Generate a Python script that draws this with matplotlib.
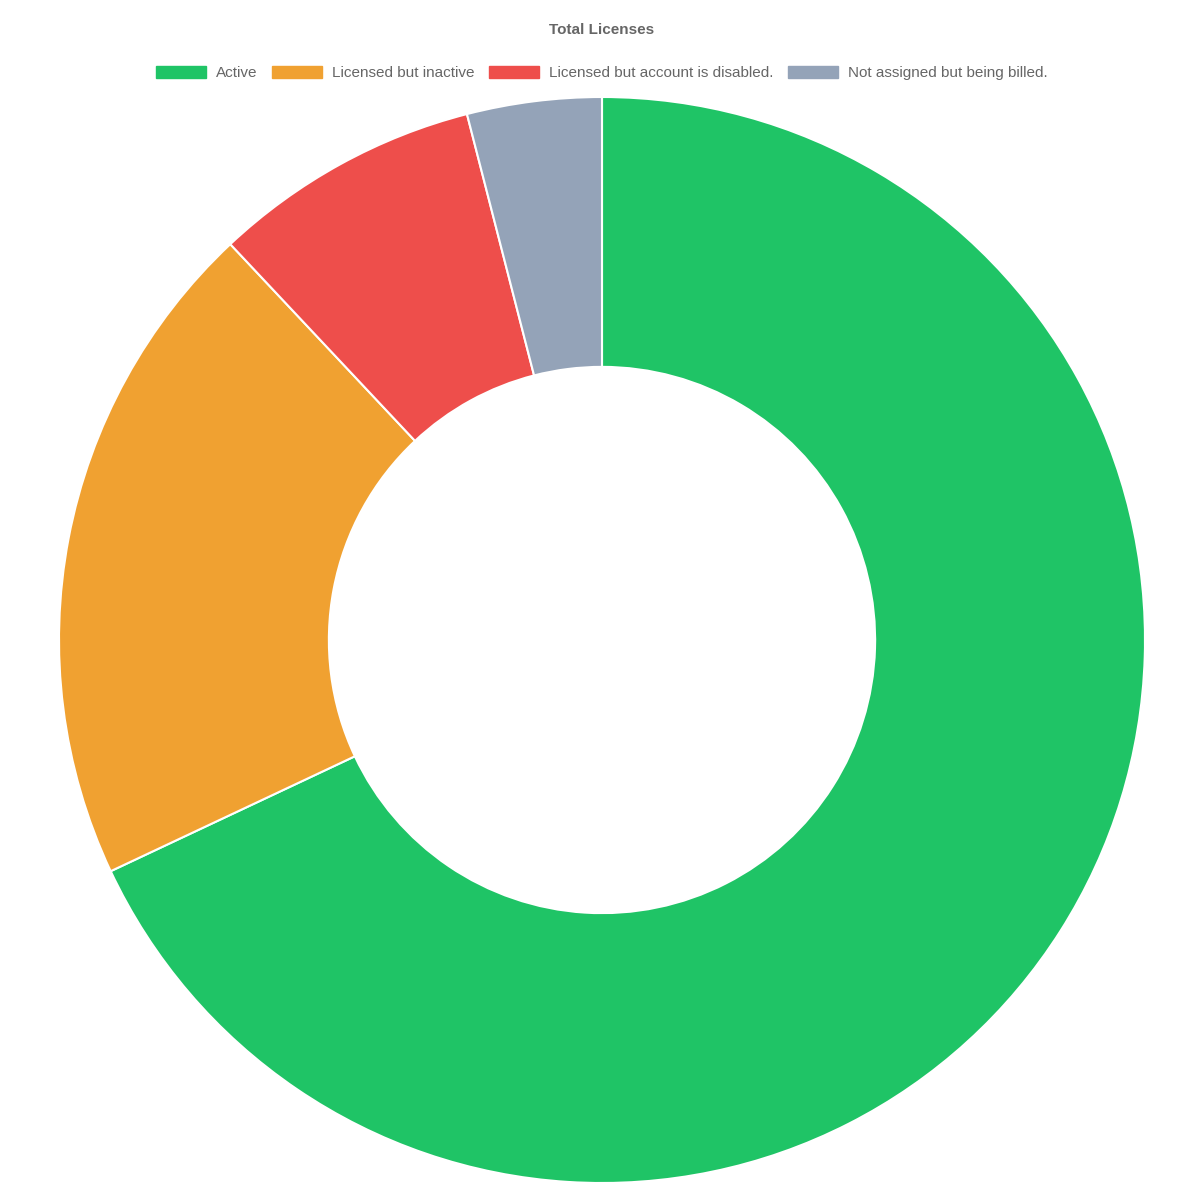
import matplotlib
matplotlib.use("Agg")
import matplotlib.pyplot as plt
from matplotlib.patches import Patch

plt.rcParams['font.family'] = ['Liberation Sans', 'DejaVu Sans']

labels = ["Active", "Licensed but inactive", "Licensed but account is disabled.", "Not assigned but being billed."]
values = [17, 5, 2, 1]
colors = ["#1FC466", "#F0A131", "#EE4E4B", "#94A3B8"]
title = "Total Licenses"

fig = plt.figure(figsize=(12, 11.92), dpi=100)

# donut area (pixels: center 602,640, radius 543)
ax = fig.add_axes([59 / 1200, 9 / 1192, 1086 / 1200, 1086 / 1192])
ax.pie(values, colors=colors, startangle=90, counterclock=False,
       wedgeprops=dict(width=0.497, edgecolor="white", linewidth=1.5))
ax.set_xlim(-1, 1)
ax.set_ylim(-1, 1)
ax.set_aspect("equal")
ax.axis("off")

fig.text(0.5015, 1 - 30 / 1192, title, ha="center", va="center",
         fontsize=11, fontweight="bold", color="#666666")

handles = [Patch(facecolor=c, edgecolor=c) for c in colors]
fig.legend(handles, labels, loc="center", bbox_to_anchor=(0.5015, 1 - 73 / 1192),
           ncol=4, frameon=False, fontsize=11, labelcolor="#666666",
           handlelength=3.27, handleheight=0.8, handletextpad=0.65, columnspacing=0.95)

fig.savefig("out.png", dpi=100)
